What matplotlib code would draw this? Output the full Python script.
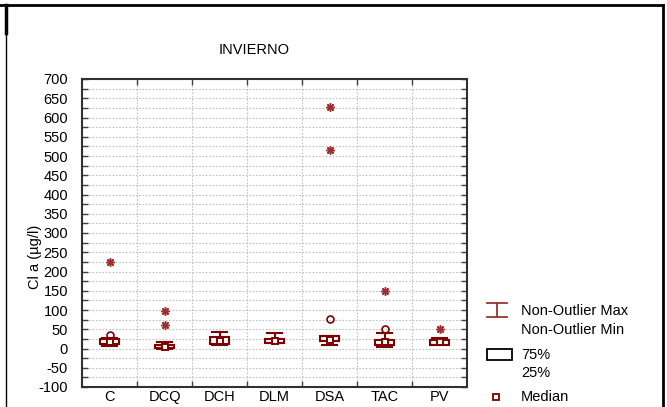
import numpy as np
import matplotlib
matplotlib.use('Agg')
import matplotlib.pyplot as plt
from matplotlib.lines import Line2D
from matplotlib.patches import Rectangle

plt.rcParams['font.family'] = ['Liberation Sans', 'DejaVu Sans']
plt.rcParams['font.size'] = 10.5
plt.rcParams['axes.unicode_minus'] = False

# data
categories = ['C', 'DCQ', 'DCH', 'DLM', 'DSA', 'TAC', 'PV']
q1 = [11, 2, 11, 14, 19, 10, 10]
median = [18, 5, 20, 19, 23, 16, 17]
q3 = [24, 10, 29, 25, 33, 23, 23]
non_outlier_min = [7, 0, 10, 13, 8, 3, 8]
non_outlier_max = [28, 18, 43, 40, 33, 39, 26]
# outliers (circles) and extremes (stars): category index, value
outlier_cat = [0, 4, 5]
outlier_val = [35, 76, 50]
extreme_cat = [0, 1, 1, 4, 4, 5, 6]
extreme_val = [225, 62, 98, 515, 627, 150, 51]

red = '#800000'
red2 = '#a03030'

fig = plt.figure(figsize=(6.67, 4.07), dpi=100)
W, H = 667, 407
ax = fig.add_axes([82 / W, 1 - 387 / H, (467 - 82) / W, (387 - 79) / H])

pos = np.arange(1, len(categories) + 1)
stats = []
for i, c in enumerate(categories):
    stats.append(dict(label=c, q1=q1[i], med=median[i], q3=q3[i],
                      whislo=non_outlier_min[i], whishi=non_outlier_max[i], fliers=[]))
ax.bxp(stats, positions=pos, widths=0.36, capwidths=0.28, showfliers=False,
       patch_artist=True,
       boxprops=dict(facecolor='white', edgecolor=red, linewidth=1.5),
       whiskerprops=dict(color=red, linewidth=1.5),
       capprops=dict(color=red, linewidth=1.5),
       medianprops=dict(linewidth=0))
ax.plot(pos, median, ls='none', marker='s', ms=5, mfc='white', mec=red, mew=1.4, zorder=5)
ax.plot(pos[outlier_cat], outlier_val, ls='none', marker='o', ms=5, mfc='none', mec=red, mew=1.2, zorder=5)
ax.plot(pos[extreme_cat], extreme_val, ls='none', marker=(8, 2, 0), ms=6, mec=red2, mew=1.1, zorder=5)

ax.set_xlim(0.5, 7.5)
ax.set_ylim(-100, 700)
ax.set_yticks(np.arange(-100, 701, 50))
ax.set_yticks(np.arange(-75, 700, 50), minor=True)
ax.set_xticks(pos)
ax.set_xticklabels(categories)
ax.set_xticks(np.arange(1.5, 7, 1), minor=True)
ax.tick_params(axis='x', which='major', length=0, pad=2.5)
ax.tick_params(axis='x', which='minor', direction='in', length=4, top=True, bottom=True, width=1, color='#404040')
ax.tick_params(axis='y', which='both', direction='in', length=4, left=True, right=True, width=1, color='#404040', pad=10)
ax.grid(True, which='minor', axis='x', color='#c0c0c0', ls=(0, (1.5, 1.5)), lw=0.8)
ax.grid(True, which='both', axis='y', color='#c0c0c0', ls=(0, (1.5, 1.5)), lw=0.8)
ax.set_axisbelow(True)
for s in ax.spines.values():
    s.set_color('#303030')
    s.set_linewidth(1.5)

fig.text(254 / W, 1 - 50 / H, 'INVIERNO', ha='center', va='center')
fig.text(35 / W, 1 - 257 / H, 'Cl a (µg/l)', ha='center', va='center', rotation=90)

# legend drawn by hand
def fx(x):
    return x / W

def fy(y):
    return 1 - y / H

fig.add_artist(Line2D([fx(487), fx(507)], [fy(303), fy(303)], color=red2, lw=1.3))
fig.add_artist(Line2D([fx(487), fx(507)], [fy(317), fy(317)], color=red2, lw=1.3))
fig.add_artist(Line2D([fx(497), fx(497)], [fy(303), fy(317)], color=red2, lw=1.3))
fig.text(fx(521), fy(311), 'Non-Outlier Max', va='center')
fig.text(fx(521), fy(330), 'Non-Outlier Min', va='center')
fig.add_artist(Rectangle((fx(487), fy(360)), fx(25), 11 / H, fill=False, ec='black', lw=1.3))
fig.text(fx(521), fy(355), '75%', va='center')
fig.text(fx(521), fy(373), '25%', va='center')
fig.add_artist(Line2D([fx(496)], [fy(397)], ls='none', marker='s', ms=4, mfc='white', mec=red, mew=1.3))
fig.text(fx(521), fy(397), 'Median', va='center')

# outer frame
fig.add_artist(Line2D([0, fx(663)], [fy(5), fy(5)], color='black', lw=2))
fig.add_artist(Line2D([fx(6), fx(6)], [fy(5), fy(33)], color='black', lw=2.5))
fig.add_artist(Line2D([fx(6), fx(6)], [fy(33), 0], color='black', lw=1))
fig.add_artist(Line2D([fx(663), fx(663)], [fy(5), 0], color='black', lw=2))

fig.savefig('out.png', dpi=100)
